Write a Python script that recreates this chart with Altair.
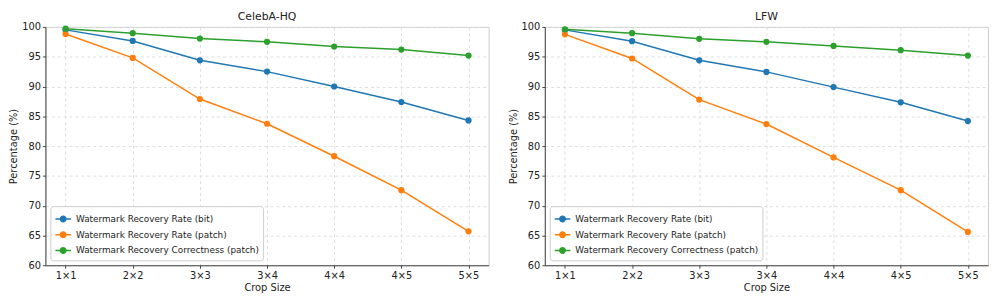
import altair as alt
import pandas as pd

crops = ["1×1", "2×2", "3×3", "3×4", "4×4", "4×5", "5×5"]
series_names = [
    "Watermark Recovery Rate (bit)",
    "Watermark Recovery Rate (patch)",
    "Watermark Recovery Correctness (patch)",
]
colors = ["#1f77b4", "#ff7f0e", "#2ca02c"]

celeba_bit = [99.5, 97.65, 94.4, 92.5, 90.0, 87.4, 84.3]
celeba_patch = [98.8, 94.8, 87.9, 83.75, 78.3, 72.6, 65.7]
celeba_corr = [99.7, 98.95, 98.05, 97.5, 96.7, 96.2, 95.2]

lfw_bit = [99.5, 97.6, 94.4, 92.45, 89.9, 87.35, 84.2]
lfw_patch = [98.75, 94.7, 87.8, 83.7, 78.1, 72.6, 65.6]
lfw_corr = [99.6, 98.95, 98.0, 97.5, 96.8, 96.1, 95.2]

y_ticks = [60, 65, 70, 75, 80, 85, 90, 95, 100]

FONT = "DejaVu Sans"


def make_df(vals):
    rows = []
    for name, arr in zip(series_names, vals):
        for c, v in zip(crops, arr):
            rows.append({"Crop": c, "Series": name, "Value": v})
    return pd.DataFrame(rows)


def panel(title, vals):
    df = make_df(vals)
    color = alt.Color(
        "Series:N",
        scale=alt.Scale(domain=series_names, range=colors),
        sort=series_names,
        legend=alt.Legend(
            title=None,
            orient="bottom-left",
            offset=5,
            fillColor="white",
            strokeColor="#cccccc",
            cornerRadius=3,
            padding=4,
            labelFont=FONT,
            labelFontSize=9,
            labelColor="#222",
            labelLimit=400,
            rowPadding=1,
            symbolType="M-1,0L1,0M-0.35,0A0.35,0.35 0 1,1 0.35,0A0.35,0.35 0 1,1 -0.35,0Z",
            symbolSize=250,
            symbolStrokeWidth=1.5,
        ),
    )
    x = alt.X(
        "Crop:O",
        sort=crops,
        scale=alt.Scale(type="point", padding=0.3),
        axis=alt.Axis(
            title="Crop Size",
            labelAngle=0,
            grid=True,
            gridDash=[3, 3],
            gridColor="#dddddd",
        ),
    )
    y = alt.Y(
        "Value:Q",
        scale=alt.Scale(domain=[60, 100], nice=False, zero=False),
        axis=alt.Axis(
            title="Percentage (%)",
            values=y_ticks,
            grid=True,
            gridDash=[3, 3],
            gridColor="#dddddd",
        ),
    )
    base = alt.Chart(df)
    line = base.mark_line(strokeWidth=1.5).encode(x=x, y=y, color=color)
    pts = base.mark_point(filled=True, size=40, opacity=1, shape="circle").encode(
        x=x, y=y, color=color
    )
    return alt.layer(line, pts).properties(
        width=450,
        height=242,
        title=alt.TitleParams(title, font=FONT, fontSize=11, fontWeight="normal", offset=0, color="#222"),
    )


chart = (
    alt.hconcat(
        panel("CelebA-HQ", [celeba_bit, celeba_patch, celeba_corr]),
        panel("LFW", [lfw_bit, lfw_patch, lfw_corr]),
        spacing=18,
    )
    .resolve_legend(color="independent")
    .properties(padding={"left": 0, "top": 0, "right": 0, "bottom": 0})
    .configure_view(stroke="#cccccc", strokeWidth=1)
    .configure_axis(
        labelFont=FONT,
        titleFont=FONT,
        labelFontSize=10,
        titleFontSize=10,
        titleFontWeight="normal",
        labelColor="#222",
        titleColor="#222",
        domainColor="#444",
        tickColor="#444",
        tickSize=3,
        labelPadding=2,
        titlePadding=3,
    )
)

chart.save("out.html", embed_options={"renderer": "svg", "actions": False})
